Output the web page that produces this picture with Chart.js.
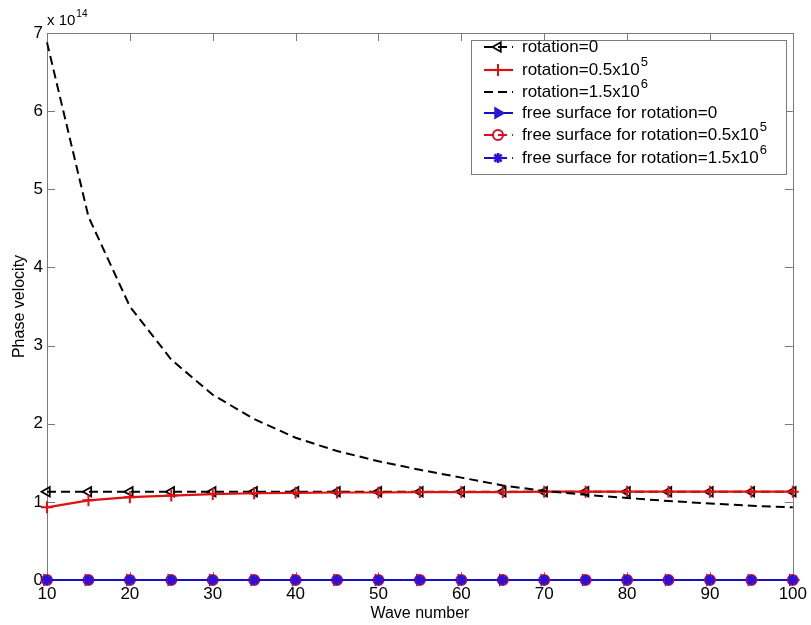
<!DOCTYPE html>
<html>
<head>
<meta charset="utf-8">
<script src="https://cdn.jsdelivr.net/npm/chart.js@4/dist/chart.umd.min.js"></script>
<style>
  html, body { margin: 0; padding: 0; background: #ffffff; }
  #wrap { width: 811px; height: 625px; position: relative; }
</style>
</head>
<body>
<div id="wrap"><canvas id="c" width="811" height="625"></canvas></div>
<script>
// ---- data (values in units of 1e14) ----
const waveNumbers = [10, 15, 20, 25, 30, 35, 40, 45, 50, 55, 60, 65, 70, 75, 80, 85, 90, 95, 100];
const rotation0 = [1.13, 1.13, 1.13, 1.13, 1.13, 1.13, 1.13, 1.13, 1.13, 1.13, 1.13, 1.13, 1.13, 1.13, 1.13, 1.13, 1.13, 1.13, 1.13];
const rotation05e5 = [0.93, 1.02, 1.06, 1.08, 1.10, 1.11, 1.115, 1.12, 1.12, 1.125, 1.125, 1.125, 1.13, 1.13, 1.13, 1.13, 1.13, 1.13, 1.13];
const rotation15e6 = [6.88, 4.65, 3.50, 2.82, 2.37, 2.06, 1.82, 1.65, 1.52, 1.41, 1.31, 1.21, 1.14, 1.09, 1.05, 1.01, 0.98, 0.95, 0.93];
const freeSurface0 = [0, 0, 0, 0, 0, 0, 0, 0, 0, 0, 0, 0, 0, 0, 0, 0, 0, 0, 0];
const freeSurface05e5 = [0, 0, 0, 0, 0, 0, 0, 0, 0, 0, 0, 0, 0, 0, 0, 0, 0, 0, 0];
const freeSurface15e6 = [0, 0, 0, 0, 0, 0, 0, 0, 0, 0, 0, 0, 0, 0, 0, 0, 0, 0, 0];
const seriesLabels = [
  'rotation=0',
  'rotation=0.5x10^5',
  'rotation=1.5x10^6',
  'free surface for rotation=0',
  'free surface for rotation=0.5x10^5',
  'free surface for rotation=1.5x10^6'
];
const xTicks = [10, 20, 30, 40, 50, 60, 70, 80, 90, 100];
const yTicks = [0, 1, 2, 3, 4, 5, 6, 7];
const xTitle = 'Wave number';
const yTitle = 'Phase velocity';
const yExponent = ['x 10', '14'];

const FONT = '"Liberation Sans", Arial, sans-serif';
const DASH = [9, 5];

function pts(arr) { return arr.map((v, i) => ({ x: waveNumbers[i], y: v })); }
function plain(l) { return l.replace('^', ''); }

const datasets = [
  { label: plain(seriesLabels[0]), data: pts(rotation0), borderColor: '#000000', backgroundColor: 'rgba(0,0,0,0)',
    borderWidth: 2, borderDash: DASH, pointStyle: 'triangle', rotation: -90, pointRadius: 5.5, pointBorderWidth: 1.8,
    pointBorderColor: '#000000', pointBackgroundColor: 'rgba(255,255,255,0)', order: 6 },
  { label: plain(seriesLabels[1]), data: pts(rotation05e5), borderColor: '#e01010', backgroundColor: 'rgba(0,0,0,0)',
    borderWidth: 2.2, borderDash: [], pointStyle: 'cross', pointRadius: 6, pointBorderWidth: 2,
    pointBorderColor: '#e01010', order: 5 },
  { label: plain(seriesLabels[2]), data: pts(rotation15e6), borderColor: '#000000', backgroundColor: 'rgba(0,0,0,0)',
    borderWidth: 2, borderDash: DASH, pointRadius: 0, pointStyle: false, order: 4 },
  { label: plain(seriesLabels[3]), data: pts(freeSurface0), borderColor: '#1010c8', backgroundColor: 'rgba(0,0,0,0)',
    borderWidth: 2, borderDash: [], pointStyle: 'triangle', rotation: 90, pointRadius: 6, pointBorderWidth: 1.5,
    pointBorderColor: '#2a18d0', pointBackgroundColor: '#2a18d0', order: 3 },
  { label: plain(seriesLabels[4]), data: pts(freeSurface05e5), borderColor: '#e01010', backgroundColor: 'rgba(0,0,0,0)',
    borderWidth: 2, borderDash: DASH, pointStyle: 'circle', pointRadius: 5, pointBorderWidth: 2,
    pointBorderColor: '#d01030', pointBackgroundColor: 'rgba(255,255,255,0)', order: 2 },
  { label: plain(seriesLabels[5]), data: pts(freeSurface15e6), borderColor: '#1a10c0', backgroundColor: 'rgba(0,0,0,0)',
    borderWidth: 2, borderDash: DASH, pointStyle: 'star', pointRadius: 5, pointBorderWidth: 2.5,
    pointBorderColor: '#2a10d8', pointBackgroundColor: '#2a10d8', order: 1 }
];
datasets.forEach(d => { d.clip = false; d.tension = 0; d.fill = false; });

function drawSupText(ctx, text, x, y, size) {
  const parts = text.split('^');
  ctx.font = size + 'px ' + FONT;
  ctx.textBaseline = 'middle';
  ctx.textAlign = 'left';
  ctx.fillText(parts[0], x, y);
  if (parts.length > 1) {
    const w = ctx.measureText(parts[0]).width;
    ctx.font = Math.round(size * 0.75) + 'px ' + FONT;
    ctx.fillText(parts[1], x + w + 1, y - size * 0.42);
  }
}

const framePlugin = {
  id: 'frame',
  beforeDatasetsDraw(chart) {
    const { ctx, chartArea: a, scales } = chart;
    ctx.save();
    ctx.strokeStyle = '#7a7a7a';
    ctx.lineWidth = 1;
    ctx.strokeRect(Math.round(a.left) + 0.5, Math.round(a.top) + 0.5, Math.round(a.right - a.left), Math.round(a.bottom - a.top));
    const tl = 8;
    ctx.beginPath();
    xTicks.forEach(v => {
      const px = Math.round(scales.x.getPixelForValue(v)) + 0.5;
      ctx.moveTo(px, a.bottom); ctx.lineTo(px, a.bottom - tl);
      ctx.moveTo(px, a.top); ctx.lineTo(px, a.top + tl);
    });
    yTicks.forEach(v => {
      const py = Math.round(scales.y.getPixelForValue(v)) + 0.5;
      ctx.moveTo(a.left, py); ctx.lineTo(a.left + tl, py);
      ctx.moveTo(a.right, py); ctx.lineTo(a.right - tl, py);
    });
    ctx.stroke();
    // exponent label
    ctx.fillStyle = '#000000';
    ctx.font = '15px ' + FONT;
    ctx.textBaseline = 'alphabetic';
    ctx.textAlign = 'left';
    ctx.fillText(yExponent[0], a.left, a.top - 8);
    const w = ctx.measureText(yExponent[0]).width;
    ctx.font = '10px ' + FONT;
    ctx.fillText(yExponent[1], a.left + w + 1, a.top - 16);
    ctx.restore();
  },
  afterDatasetsDraw(chart) {
    const { ctx } = chart;
    const bx = 471, by = 40, bw = 315, bh = 134;
    ctx.save();
    ctx.fillStyle = '#ffffff';
    ctx.fillRect(bx, by, bw, bh);
    ctx.strokeStyle = '#7a7a7a';
    ctx.lineWidth = 1;
    ctx.strokeRect(bx + 0.5, by + 0.5, bw, bh);
    const rowY = [47, 70, 92, 113, 135, 158];
    chart.data.datasets.forEach((d, i) => {
      const y = rowY[i];
      ctx.save();
      ctx.strokeStyle = d.borderColor;
      ctx.lineWidth = d.borderWidth;
      ctx.setLineDash(d.borderDash || []);
      ctx.beginPath();
      ctx.moveTo(484, y); ctx.lineTo(513, y);
      ctx.stroke();
      ctx.restore();
      if (d.pointStyle) {
        ctx.save();
        ctx.strokeStyle = d.pointBorderColor || d.borderColor;
        ctx.fillStyle = d.pointBackgroundColor || 'rgba(0,0,0,0)';
        ctx.lineWidth = d.pointBorderWidth || 1;
        Chart.helpers.drawPoint(ctx, { pointStyle: d.pointStyle, rotation: d.rotation || 0, radius: d.pointRadius, borderWidth: d.pointBorderWidth }, 498, y);
        ctx.restore();
      }
      ctx.fillStyle = '#000000';
      drawSupText(ctx, seriesLabels[i], 522, y, 17);
    });
    ctx.restore();
  }
};

new Chart(document.getElementById('c'), {
  type: 'line',
  data: { datasets },
  options: {
    responsive: false,
    animation: false,
    events: [],
    layout: { padding: { left: 0, top: 33, right: 14, bottom: 0 } },
    plugins: { legend: { display: false }, tooltip: { enabled: false } },
    scales: {
      x: {
        type: 'linear', min: 10, max: 100,
        afterBuildTicks: s => { s.ticks = xTicks.map(v => ({ value: v })); },
        afterFit: s => { s.height = 45; },
        grid: { display: false, drawTicks: false },
        border: { display: false },
        ticks: { color: '#000', font: { family: FONT, size: 17 }, padding: 4, maxRotation: 0, autoSkip: false },
        title: { display: true, text: xTitle, color: '#000', font: { family: FONT, size: 16 }, padding: { top: 0, bottom: 2 } }
      },
      y: {
        type: 'linear', min: 0, max: 7,
        afterBuildTicks: s => { s.ticks = yTicks.map(v => ({ value: v })); },
        afterFit: s => { s.width = 47; },
        grid: { display: false, drawTicks: false },
        border: { display: false },
        ticks: { color: '#000', font: { family: FONT, size: 17 }, padding: 4 },
        title: { display: true, text: yTitle, color: '#000', font: { family: FONT, size: 16 }, padding: { top: 10, bottom: 0 } }
      }
    }
  },
  plugins: [framePlugin]
});
</script>
</body>
</html>
